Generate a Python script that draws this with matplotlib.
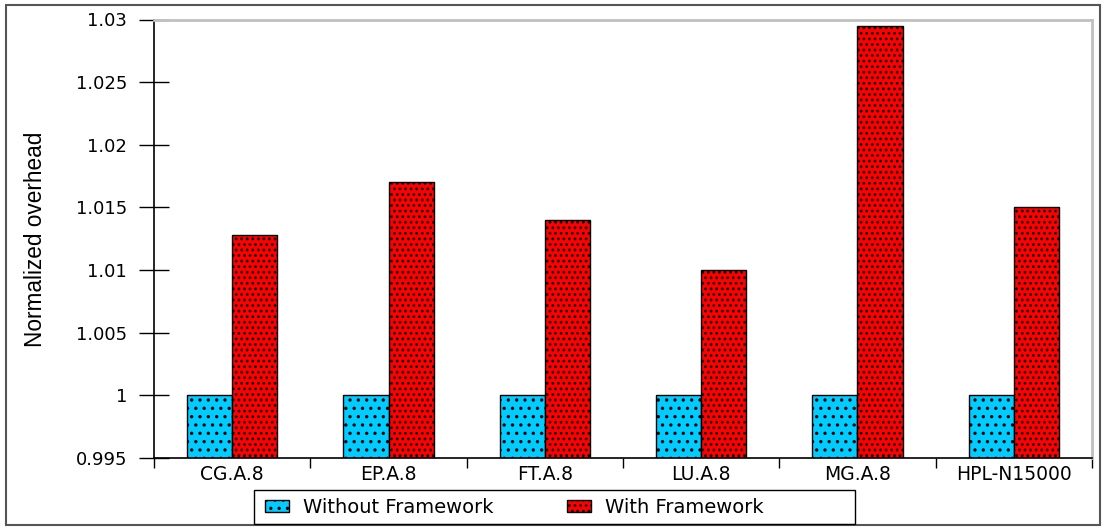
import matplotlib
matplotlib.use('Agg')
import matplotlib.pyplot as plt
from matplotlib.patches import Rectangle
import numpy as np

# data
categories = ['CG.A.8', 'EP.A.8', 'FT.A.8', 'LU.A.8', 'MG.A.8', 'HPL-N15000']
without_fw = [1.0, 1.0, 1.0, 1.0, 1.0, 1.0]
with_fw = [1.0128, 1.017, 1.014, 1.010, 1.0295, 1.015]
yticks = [0.995, 1, 1.005, 1.01, 1.015, 1.02, 1.025, 1.03]
ytick_labels = ['0.995', '1', '1.005', '1.01', '1.015', '1.02', '1.025', '1.03']

plt.rcParams['hatch.linewidth'] = 1.2
plt.rcParams['hatch.color'] = 'black'

W, H = 1103, 529
fig = plt.figure(figsize=(W/100, H/100), dpi=100)
ax = fig.add_axes([154/W, 1-458/H, (1092-154)/W, (458-19.5)/H])

# outer border
fig.patches.append(Rectangle((6/W, 4/H), 1094/W, 520/H, transform=fig.transFigure,
                             fill=False, edgecolor='#555555', linewidth=1.5))

x = np.arange(len(categories))
w = 0.288
b1 = ax.bar(x - w/2, [v - 0.995 for v in without_fw], w, bottom=0.995, color='#00ccff',
            edgecolor='black', linewidth=1.0, hatch='..', label='Without Framework')
b2 = ax.bar(x + w/2, [v - 0.995 for v in with_fw], w, bottom=0.995, color='#ff0000',
            edgecolor='black', linewidth=1.0, hatch='...', label='With Framework')

ax.set_xlim(-0.5, len(categories) - 0.5)
ax.set_ylim(0.995, 1.03)
ax.set_yticks(yticks)
ax.set_yticklabels(ytick_labels, fontsize=13)
ax.tick_params(axis='y', direction='inout', length=22, width=1, pad=8.5)

ax.set_xticks(x)
ax.set_xticklabels(categories, fontsize=13.5)
ax.tick_params(axis='x', which='major', length=0, pad=5)
ax.set_xticks(np.arange(-0.5, len(categories)), minor=True)
ax.tick_params(axis='x', which='minor', direction='out', length=7, width=1)

ax.spines['left'].set_linewidth(1.2)
ax.spines['bottom'].set_linewidth(1.2)
ax.spines['top'].set_color('#c0c0c0')
ax.spines['right'].set_color('#c0c0c0')
ax.spines['top'].set_linewidth(2)
ax.spines['right'].set_linewidth(2)

fig.text(36/W, 1-239.5/H, 'Normalized overhead', rotation=90, va='center', ha='center',
         fontsize=16.3, family=['Liberation Sans', 'DejaVu Sans'])

# legend box drawn separately, it is wider than the entries
fig.patches.append(Rectangle((254/W, 1-524/H), (855-254)/W, (524-490)/H,
                             transform=fig.transFigure, fill=False,
                             edgecolor='black', linewidth=1.0))
leg = fig.legend(handles=[b1, b2], loc='center left', bbox_to_anchor=(265/W, 1-507.5/H),
                 ncol=2, fontsize=14, frameon=False,
                 handlelength=1.23, handleheight=0.6, handletextpad=0.72,
                 columnspacing=3.8, borderpad=0, borderaxespad=0)

fig.savefig('out.png', dpi=100)
